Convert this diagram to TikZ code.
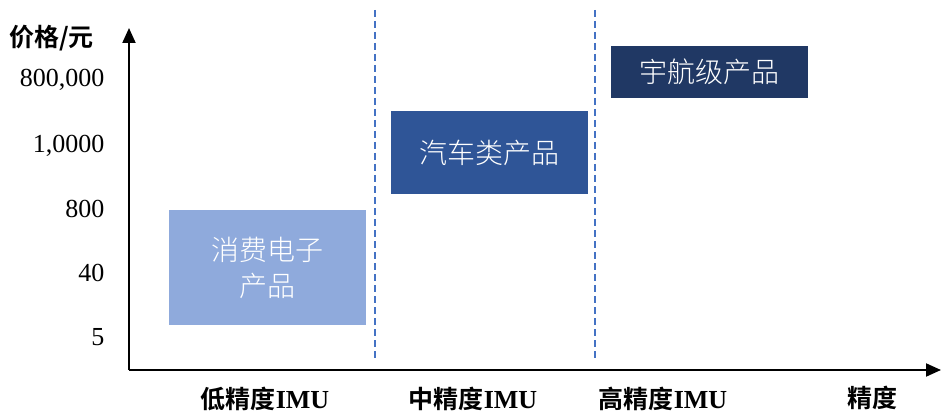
\documentclass[tikz,border=0pt]{standalone}
\usepackage{fontspec}
\setmainfont{Liberation Serif}
\newfontfamily\cjk{Noto Sans CJK SC}[BoldFont={Noto Sans CJK SC Bold}]
\newfontfamily\cjklight{Noto Sans CJK SC Light}
\usetikzlibrary{arrows.meta}
\definecolor{boxA}{HTML}{8FAADC}
\definecolor{boxB}{HTML}{2F5597}
\definecolor{boxC}{HTML}{203864}
\definecolor{dashc}{HTML}{4472C4}
\newcommand{\imu}{{\rmfamily\bfseries\fontsize{26}{28}\selectfont IMU}}
\begin{document}
\begin{tikzpicture}[x=1pt,y=-1pt,
  axis/.style={line width=2pt,-{Triangle[length=15pt,width=13pt]}},
  sep/.style={dashc,line width=1.3pt,dash pattern=on 7pt off 4pt},
  prod/.style={inner sep=0pt,text=white,font=\cjklight\fontsize{28}{36}\selectfont,align=center},
  ylab/.style={anchor=east,font=\fontsize{26}{28}\selectfont},
  xlab/.style={inner sep=0pt,font=\cjk\bfseries\fontsize{25}{28}\selectfont}]
\useasboundingbox (0,0) rectangle (941,414);
\coordinate (o) at (129,370);
\coordinate (ytip) at (129,28);
\coordinate (xtip) at (941,370);
\draw[axis] (o) -- (ytip);
\draw[axis] (o) -- (xtip);
\coordinate (d1t) at (375,10);
\coordinate (d1b) at (375,358);
\coordinate (d2t) at (595,10);
\coordinate (d2b) at (595,358);
\draw[sep] (d1t) -- (d1b);
\draw[sep] (d2t) -- (d2b);
\fill[boxA] (169,210) rectangle (366,325);
\fill[boxB] (391,111) rectangle (588,194);
\fill[boxC] (611,46) rectangle (808,98);
\node[prod] (p1) at (267.5,267.5) {消费电子\\产品};
\node[prod] (p2) at (489.5,152.5) {汽车类产品};
\node[prod] (p3) at (709.5,72) {宇航级产品};
\node[ylab] (l1) at (108,80) {800,000};
\node[ylab] (l2) at (108,146) {1,0000};
\node[ylab] (l3) at (108,209) {800};
\node[ylab] (l4) at (108,273) {40};
\node[ylab] (l5) at (108,337) {5};
\node[xlab,anchor=west] (yt) at (9,38) {价格/元};
\node[xlab] (x1) at (265,399) {低精度\imu};
\node[xlab] (x2) at (473,399) {中精度\imu};
\node[xlab] (x3) at (663,399) {高精度\imu};
\node[xlab] (x4) at (872,398) {精度};
\end{tikzpicture}
\end{document}
